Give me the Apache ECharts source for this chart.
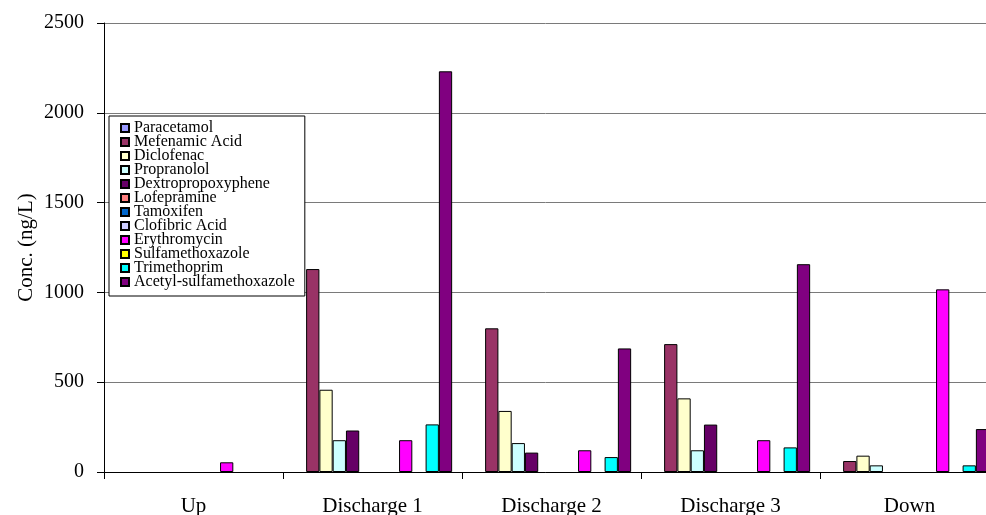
<!DOCTYPE html>
<html>
<head>
<meta charset="utf-8">
<script src="https://cdn.jsdelivr.net/npm/echarts@6/dist/echarts.min.js"></script>
<style>
  html, body { margin: 0; padding: 0; background: #fff; }
  #chart { width: 986px; height: 515px; }
</style>
</head>
<body>
<div id="chart"></div>
<script>
// Sampling sites along the river
const sites = ['Up', 'Discharge 1', 'Discharge 2', 'Discharge 3', 'Down'];

// Measured concentrations (ng/L) per compound and site; null = not detected
const paracetamol        = [null, null, null, null, null];
const mefenamicAcid      = [null, 1130, 800, 712, 61];
const diclofenac         = [null, 458, 340, 410, 91];
const propranolol        = [null, 177, 161, 121, 37];
const dextropropoxyphene = [null, 231, 108, 264, null];
const lofepramine        = [null, null, null, null, null];
const tamoxifen          = [null, null, null, null, null];
const clofibricAcid      = [null, null, null, null, null];
const erythromycin       = [54, 177, 121, 177, 1017];
const sulfamethoxazole   = [null, null, null, null, null];
const trimethoprim       = [null, 265, 83, 137, 37];
const acetylSulfa        = [null, 2231, 688, 1157, 239];

// Y-axis range and step
const yMin = 0, yMax = 2500, yStep = 500;

const compounds = [
  ['Paracetamol', paracetamol, '#9999FF'],
  ['Mefenamic Acid', mefenamicAcid, '#993366'],
  ['Diclofenac', diclofenac, '#FFFFCC'],
  ['Propranolol', propranolol, '#CCFFFF'],
  ['Dextropropoxyphene', dextropropoxyphene, '#660066'],
  ['Lofepramine', lofepramine, '#FF8080'],
  ['Tamoxifen', tamoxifen, '#0066CC'],
  ['Clofibric Acid', clofibricAcid, '#CCCCFF'],
  ['Erythromycin', erythromycin, '#FF00FF'],
  ['Sulfamethoxazole', sulfamethoxazole, '#FFFF00'],
  ['Trimethoprim', trimethoprim, '#00FFFF'],
  ['Acetyl-sulfamethoxazole', acetylSulfa, '#800080']
];

const FONT = '"Liberation Serif", "Times New Roman", serif';

const chart = echarts.init(document.getElementById('chart'), null, { renderer: 'canvas' });

chart.setOption({
  backgroundColor: '#ffffff',
  animation: false,
  textStyle: { fontFamily: FONT, color: '#000' },
  // plot area runs a little past the right edge of the canvas
  grid: { left: 104, top: 23, width: 895, height: 449, containLabel: false, outerBoundsMode: 'none' },
  legend: {
    orient: 'vertical',
    left: 109,
    top: 116,
    padding: [4, 10, 6, 11],
    itemGap: -2,
    itemWidth: 8,
    itemHeight: 8,
    icon: 'rect',
    backgroundColor: '#ffffff',
    borderColor: '#000000',
    borderWidth: 1,
    z: 10,
    textStyle: { fontFamily: FONT, fontSize: 16, color: '#000' },
    data: compounds.map(c => c[0])
  },
  xAxis: {
    type: 'category',
    data: sites,
    boundaryGap: true,
    axisLine: { lineStyle: { color: '#000', width: 1 } },
    axisTick: { show: true, length: 7, lineStyle: { color: '#000' } },
    axisLabel: { fontFamily: FONT, fontSize: 21, color: '#000', margin: 24 },
    splitLine: { show: false }
  },
  yAxis: {
    type: 'value',
    min: yMin,
    max: yMax,
    interval: yStep,
    name: 'Conc. (ng/L)',
    nameLocation: 'middle',
    nameRotate: 90,
    nameGap: 67,
    nameMoveOverlap: false,
    nameTextStyle: { fontFamily: FONT, fontSize: 21, color: '#000' },
    axisLine: { show: true, lineStyle: { color: '#000', width: 1 } },
    axisTick: { show: true, length: 7, lineStyle: { color: '#000' } },
    axisLabel: { fontFamily: FONT, fontSize: 20, color: '#000', margin: 20, formatter: v => String(v) },
    splitLine: { show: true, lineStyle: { color: '#7a7a7a', width: 1 } }
  },
  series: compounds.map(c => ({
    name: c[0],
    type: 'bar',
    data: c[1],
    barGap: '0%',
    barCategoryGap: '11%',
    itemStyle: { color: c[2], borderColor: '#000', borderWidth: 1 }
  }))
});
</script>
</body>
</html>
